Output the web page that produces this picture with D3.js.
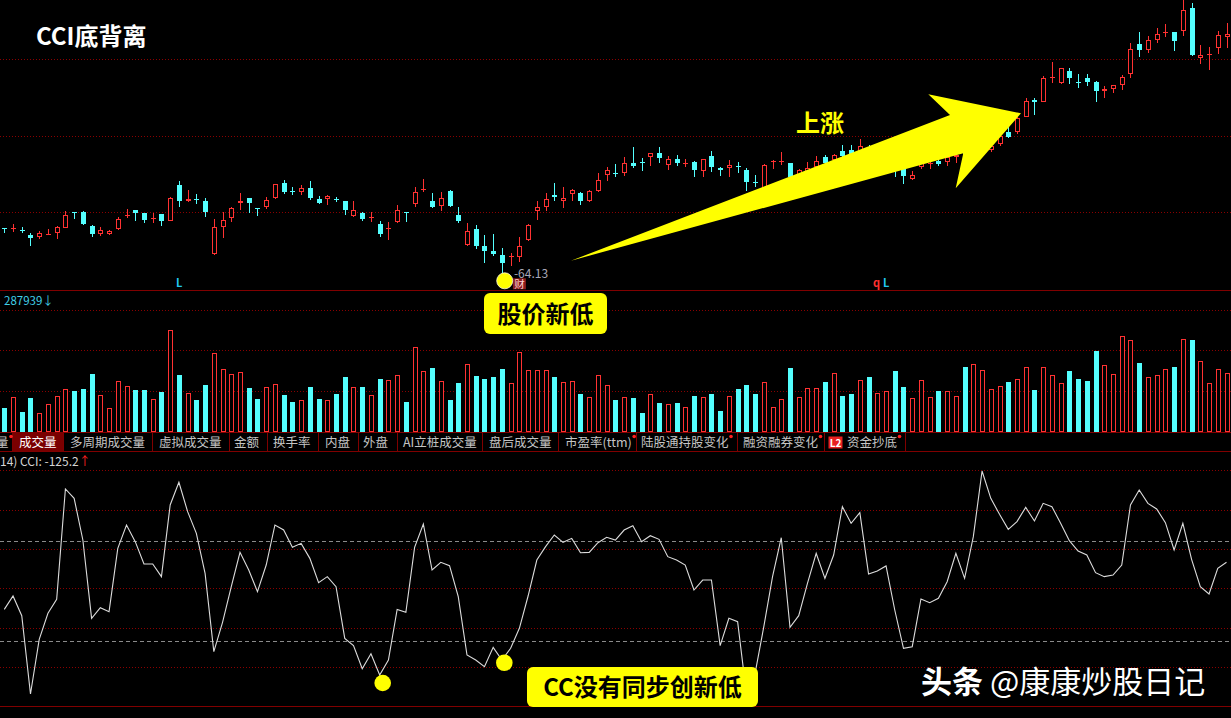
<!DOCTYPE html>
<html><head><meta charset="utf-8">
<script src="https://cdn.jsdelivr.net/npm/d3@7"></script>
<style>
html,body{margin:0;padding:0;background:#000;overflow:hidden}
svg{display:block}
text{font-family:"Noto Sans CJK SC","Noto Sans",sans-serif}
</style></head><body>
<svg id="c" width="1231" height="718"></svg>
<script>
// ---------------- data ----------------
const opens = [68.63,68.53,68.49,67.99,67.73,67.99,68.13,68.69,70.26,70.26,68.83,68.03,68.03,68.56,69.89,70.43,70.13,69.53,70.03,69.39,
72.96,71.36,71.53,71.39,66.06,68.76,69.69,71.13,71.63,70.66,70.79,71.66,73.16,72.33,72.23,72.66,71.56,71.53,71.56,71.33,
69.89,70.16,69.69,69.09,68.59,69.26,70.26,71.09,72.49,71.33,70.89,72.39,69.93,66.96,68.56,66.86,66.39,65.93,65.79,65.73,
67.46,70.39,70.73,71.93,71.39,72.09,72.13,71.39,72.36,73.96,74.13,74.13,75.19,75.29,75.76,76.13,74.93,75.56,75.06,75.29,
74.39,75.86,74.69,74.69,74.89,74.46,73.23,72.46,75.26,75.29,75.13,73.76,74.26,74.79,75.79,75.46,76.39,76.46,76.29,76.66,
75.46,75.16,75.46,74.63,73.59,74.73,75.13,75.36,75.29,75.73,76.13,75.26,76.06,76.46,77.06,78.26,78.29,79.79,81.46,81.29,
83.63,83.19,84.39,83.29,83.63,83.26,82.39,82.53,82.96,84.06,87.06,86.46,87.49,88.16,88.29,88.39,90.63,85.69,85.99,86.63,87.76];
const closes = [68.53,68.63,68.33,67.66,68.16,68.09,68.79,69.93,70.13,69.06,68.03,68.46,68.36,69.56,69.99,70.19,69.43,69.63,69.33,71.69,
71.39,71.53,71.46,70.23,68.73,69.46,70.69,71.36,71.19,70.56,71.46,73.03,72.23,72.23,72.66,71.69,71.19,71.86,71.46,70.46,
70.43,69.53,69.79,68.03,68.69,70.43,70.16,72.29,72.59,70.73,71.63,70.83,69.36,68.36,66.86,66.33,66.06,65.13,65.89,66.89,
68.93,70.73,71.53,71.79,71.69,72.46,71.39,72.39,73.43,74.46,74.03,75.19,74.89,75.19,76.13,75.63,75.53,75.19,75.16,74.43,
75.53,74.76,74.43,74.93,74.79,73.29,73.13,74.99,75.36,75.39,73.73,74.46,74.66,75.39,75.13,75.96,75.83,75.66,76.86,75.86,
76.16,76.06,74.66,73.89,73.96,75.13,75.19,75.03,75.73,75.96,75.13,76.26,76.86,76.86,77.86,77.79,79.63,81.39,81.29,83.63,
83.79,84.63,83.63,83.19,83.26,82.36,82.53,82.93,83.79,86.56,86.46,87.43,88.03,88.29,87.39,90.46,85.96,85.96,86.09,87.93,88.06];
const highs = [68.63,69.03,68.73,68.13,68.36,68.56,68.86,70.36,70.26,70.36,68.93,68.73,68.46,69.79,70.53,70.49,70.19,70.16,70.09,71.79,
73.36,72.46,72.03,71.63,69.56,70.23,70.79,72.13,71.63,70.66,71.79,73.09,73.46,72.76,72.96,73.36,71.86,71.93,71.79,71.36,
71.36,70.26,70.26,69.39,69.29,70.93,70.26,72.76,73.53,72.13,72.26,72.43,70.79,69.13,68.93,67.93,68.09,66.63,66.19,67.73,
69.09,71.36,72.19,73.19,72.76,72.56,72.26,72.49,74.16,74.73,75.03,75.76,76.79,75.63,76.19,76.73,75.86,75.99,75.56,75.39,
75.59,76.33,74.76,75.43,75.29,74.69,73.96,75.03,75.46,76.29,75.19,74.53,75.29,75.86,75.93,76.06,76.96,76.96,77.53,76.96,
76.46,76.36,75.76,74.76,74.39,75.46,75.53,75.53,75.96,76.19,76.46,76.46,77.06,77.16,78.06,78.79,79.73,81.63,81.63,83.86,
85.29,84.63,84.63,84.03,84.06,83.36,82.89,82.96,83.96,87.13,88.29,87.89,88.63,89.03,88.29,91.46,91.19,86.96,86.79,88.36,89.19];
const lows = [68.13,68.23,68.19,66.86,67.59,67.99,67.53,68.63,69.59,68.93,67.73,67.83,67.99,68.46,69.66,69.39,69.13,69.13,68.86,69.39,
70.79,71.29,71.06,69.76,65.96,67.63,69.23,70.46,70.13,69.89,70.59,71.59,72.06,71.93,71.99,71.49,71.03,70.93,71.26,69.96,
69.79,69.39,69.29,67.79,67.46,69.19,69.29,70.79,72.26,70.69,70.36,70.73,69.13,66.89,66.59,65.19,65.86,64.13,64.89,65.29,
67.39,69.46,70.39,71.39,70.63,71.39,70.93,71.23,72.23,73.36,73.73,73.89,74.63,74.39,74.86,75.19,74.49,74.89,74.76,73.73,
73.73,74.26,73.89,73.79,74.19,72.36,72.73,72.26,74.56,74.99,73.46,73.46,73.86,74.46,74.66,75.16,75.46,75.26,75.96,75.46,
75.16,74.86,73.76,73.06,73.46,74.59,74.53,74.86,74.86,75.13,74.86,75.06,75.86,76.26,76.86,77.66,78.03,79.73,79.96,81.23,
83.19,83.03,83.06,82.63,82.89,81.23,81.69,82.13,82.46,83.69,85.79,86.13,87.13,87.79,86.39,87.86,85.89,85.03,84.46,86.06,86.69];
// volume, thousand shares
const volumes = [116,170,97,165,92,137,175,211,201,211,284,183,119,249,224,206,206,160,198,500,
280,191,157,229,389,308,283,293,216,162,219,237,180,147,155,221,162,155,188,268,
219,219,183,258,255,278,147,415,299,312,252,157,239,335,275,261,271,308,239,394,
304,304,304,270,247,252,188,173,278,229,157,170,165,92,186,141,136,141,123,178,
170,188,104,178,211,229,188,247,123,160,312,173,214,214,244,288,178,188,257,270,
191,201,298,219,165,254,170,201,201,178,317,335,303,211,224,244,260,317,206,317,
280,242,298,261,249,399,330,283,472,450,340,270,278,308,317,455,450,348,242,308,288];
const cci = [-36.9,-10.3,-49.5,-205.7,-96.7,-44.8,-16.9,203.1,184.5,101.4,-54.8,-33.5,-41.5,84.8,131.3,98.1,53.5,53.5,28.3,171.2,
216.4,157.9,114.7,34.9,-121.3,-62.8,8.3,76.8,41.6,-1.6,51.5,131.3,121.3,86.8,94.7,64.8,16.3,28.3,8.3,-94.7,
-109.3,-155.2,-125.3,-167.8,-137.9,-36.9,-42.8,86.8,133.3,41.6,56.9,50.2,-11.6,-127.9,-137.9,-151.2,-112.6,-137.9,-114.6,-74.7,
-10.3,61.5,88.1,111.4,96.7,104.7,76.1,76.8,96.1,106.7,101.4,121.3,130.0,98.1,110.0,102.7,68.2,61.5,51.5,1.7,
21.6,21.6,-109.3,-54.8,-61.4,-204.4,-164.5,-71.4,28.3,106.0,-72.7,-49.5,15.0,74.8,25.0,71.5,167.9,134.6,155.9,33.6,
39.6,49.6,-38.2,-114.6,-111.3,-16.3,-23.6,-14.9,18.3,74.8,25.0,108.0,239.0,184.5,152.6,122.7,138.0,166.5,139.3,174.5,
167.9,134.6,100.1,79.5,71.5,36.3,28.3,31.6,51.5,171.2,201.1,174.5,163.2,136.0,81.5,134.6,62.8,8.3,-6.3,44.9,56.9];

const priceGrid = [70.23, 77.86, 85.53];
const volGrid = [200, 400, 600];
const cciGrid = [-152, -73.6, 4.8, 83.2, 161.6, 240];
const cciRef = [-100, 100];

const tabLabels = ["量","成交量","多周期成交量","虚拟成交量","金额","换手率","内盘","外盘","AI立桩成交量","盘后成交量","市盈率(ttm)","陆股通持股变化","融资融券变化","资金抄底"];
const tabX = [-4,19,70,159,234,273,325,363,403,489,565,641,743,847];
const tabDot = [true,false,false,false,false,false,false,false,false,false,true,true,true,true];
const tabSep = [12,63,152,229,267,318,358,397,482,558,636,737,824,905];

// annotation arrow in (index, price)
const arrowIdx = [64.91,108.33,105.84,116.46,108.98,109.85];
const arrowPrice = [65.39,79.96,82.03,80.13,72.63,76.13];

// ---------------- drawing ----------------
const W = 1231, H = 718;
const RED = "#ff3232", CYAN = "#54ffff", GRID = "#8a0000", LINE = "#800000";
const svg = d3.select("#c");
svg.append("rect").attr("width", W).attr("height", H).attr("fill", "#000");
const n = opens.length;
const x = d3.scaleLinear().domain([0, n - 1]).range([4.3, 1226.5]);
const yP = d3.scaleLinear().domain([62.46, 91.46]).range([290, 0]);
const yV = d3.scaleLinear().domain([0, 691.6]).range([432, 291]);
const yC = d3.scaleLinear().domain([-100, 100]).range([641, 540.7]);

const defs = svg.append("defs");
defs.append("clipPath").attr("id", "cp").append("rect").attr("x", 0).attr("y", 0).attr("width", W).attr("height", 290);
defs.append("clipPath").attr("id", "cc").append("rect").attr("x", 0).attr("y", 452).attr("width", W).attr("height", 254);

function hline(y, color, dash) {
  const l = svg.append("line").attr("x1", 0).attr("x2", W)
    .attr("y1", Math.round(y) + 0.5).attr("y2", Math.round(y) + 0.5)
    .attr("stroke", color).attr("stroke-width", 1);
  if (dash) l.attr("stroke-dasharray", dash);
  return l;
}
// grids
priceGrid.forEach(p => hline(yP(p), GRID, "1,2"));
volGrid.forEach(v => hline(yV(v), GRID, "1,2"));
cciGrid.forEach(v => hline(yC(v), GRID, "1,2"));
cciRef.forEach(v => hline(yC(v), "#8a8a8a", "4,3"));
// pane separators
hline(290, LINE);
hline(432, LINE);
hline(451, LINE);
hline(706, LINE);

// candles
const gc = svg.append("g").attr("clip-path", "url(#cp)");
d3.range(n).forEach(i => {
  const c0 = Math.round(x(i));
  const up = closes[i] >= opens[i];
  const col = up ? RED : CYAN;
  const yh = Math.round(yP(highs[i])), yl = Math.round(yP(lows[i]));
  gc.append("line").attr("x1", c0 + 0.5).attr("x2", c0 + 0.5).attr("y1", yh).attr("y2", yl)
    .attr("stroke", col).attr("stroke-width", 1);
  const yo = Math.round(yP(opens[i])), yc = Math.round(yP(closes[i]));
  if (up) {
    const h = Math.max(1, yo - yc);
    gc.append("rect").attr("x", c0 - 1.5).attr("y", yc + 0.5).attr("width", 4).attr("height", h - 1 > 0 ? h - 1 : 0.01)
      .attr("fill", "#000").attr("stroke", col).attr("stroke-width", 1);
  } else {
    const h = Math.max(1, yc - yo);
    gc.append("rect").attr("x", c0 - 2).attr("y", yo).attr("width", 5).attr("height", h).attr("fill", col);
  }
});

// volume bars
const gv = svg.append("g");
d3.range(n).forEach(i => {
  const c0 = Math.round(x(i));
  const up = closes[i] >= opens[i];
  const yt = Math.round(yV(volumes[i]));
  const yb = Math.round(yV(0));
  if (up) {
    gv.append("rect").attr("x", c0 - 1.5).attr("y", yt + 0.5).attr("width", 4).attr("height", yb - yt - 1)
      .attr("fill", "#000").attr("stroke", RED).attr("stroke-width", 1);
  } else {
    gv.append("rect").attr("x", c0 - 2).attr("y", yt).attr("width", 5).attr("height", yb - yt).attr("fill", CYAN);
  }
});

// CCI line
const line = d3.line().x((d, i) => x(i)).y(d => yC(d));
svg.append("path").datum(cci).attr("clip-path", "url(#cc)").attr("d", line)
  .attr("fill", "none").attr("stroke", "#dcdcdc").attr("stroke-width", 1.1);

// volume label
const vl = svg.append("text").attr("x", 4).attr("y", 305).attr("font-size", 11.5).attr("fill", "#40d0e8");
vl.text("287939↓");

// tab bar
svg.append("rect").attr("x", 12).attr("y", 433).attr("width", 51).attr("height", 18).attr("fill", "#7a0000");
tabSep.forEach(sx => svg.append("line").attr("x1", sx + 0.5).attr("x2", sx + 0.5).attr("y1", 433).attr("y2", 451)
  .attr("stroke", LINE).attr("stroke-width", 1));
tabLabels.forEach((t, i) => {
  const tx = svg.append("text").attr("x", tabX[i]).attr("y", 447).attr("font-size", 12.5)
    .attr("fill", i === 1 ? "#ffffff" : "#c4c4c4").text(t);
  if (tabDot[i]) {
    const w = tx.node().getComputedTextLength();
    svg.append("circle").attr("cx", tabX[i] + w + 2.5).attr("cy", 436.5).attr("r", 1.8).attr("fill", "#ff2020");
  }
});
// L2 badge
svg.append("rect").attr("x", 828.5).attr("y", 436.5).attr("width", 14).attr("height", 12).attr("fill", "#e82020");
svg.append("text").attr("x", 835.5).attr("y", 446.5).attr("text-anchor", "middle").attr("font-size", 10)
  .attr("font-weight", "bold").attr("fill", "#fff").text("L2");

// CCI label
const cl = svg.append("text").attr("x", 0).attr("y", 466).attr("font-size", 12).attr("fill", "#d4d4d4");
cl.append("tspan").text("14) CCI: -125.2");
cl.append("tspan").attr("fill", "#ff2020").text("↑");

// markers in price pane
svg.append("text").attr("x", 176).attr("y", 287).attr("font-size", 11).attr("font-weight", "bold").attr("fill", "#20c8f0").text("L");
svg.append("text").attr("x", 873).attr("y", 287).attr("font-size", 11).attr("font-weight", "bold").attr("fill", "#ff3030").text("q");
svg.append("text").attr("x", 883).attr("y", 287).attr("font-size", 11).attr("font-weight", "bold").attr("fill", "#20c8f0").text("L");

// low annotation
const lowX = x(57), lowY = yP(lows[57]);
svg.append("text").attr("x", lowX + 12).attr("y", lowY + 4.5).attr("font-size", 12).attr("fill", "#a8a8b8").text("-64.13");
svg.append("rect").attr("x", lowX + 11).attr("y", lowY + 5).attr("width", 13).attr("height", 11).attr("fill", "#8a1c1c");
svg.append("text").attr("x", lowX + 17.5).attr("y", lowY + 14.5).attr("text-anchor", "middle").attr("font-size", 10.5).attr("fill", "#ffd6d6").text("财");

// arrow
const arrowPts = arrowIdx.map((d, i) => [x(d), yP(arrowPrice[i])]);
svg.append("polygon").attr("points", arrowPts.map(p => p.join(",")).join(" ")).attr("fill", "#ffff00");

// title
svg.append("text").attr("x", 36).attr("y", 44.5).attr("font-size", 24).attr("font-weight", "bold").attr("fill", "#fff").text("CCI底背离");
svg.append("text").attr("x", 796).attr("y", 132).attr("font-size", 24).attr("font-weight", "bold").attr("fill", "#ffff00").text("上涨");

// dots
svg.append("circle").attr("cx", lowX + 2.8).attr("cy", lowY + 7.5).attr("r", 8).attr("fill", "#ffff00").attr("stroke", "#fffde0").attr("stroke-width", 0.8);
svg.append("circle").attr("cx", x(43) + 3).attr("cy", yC(cci[43]) + 8).attr("r", 8.3).attr("fill", "#ffff00");
svg.append("circle").attr("cx", x(57) + 2.4).attr("cy", yC(cci[57]) + 2.8).attr("r", 8.3).attr("fill", "#ffff00");

// callout boxes
svg.append("rect").attr("x", 484).attr("y", 293).attr("width", 123).attr("height", 41).attr("rx", 6).attr("fill", "#ffff00");
svg.append("text").attr("x", 545.5).attr("y", 322.5).attr("text-anchor", "middle").attr("font-size", 24).attr("font-weight", "bold").attr("fill", "#000").text("股价新低");
svg.append("rect").attr("x", 527).attr("y", 667).attr("width", 231).attr("height", 40).attr("rx", 6).attr("fill", "#ffff00");
svg.append("text").attr("x", 642.5).attr("y", 695.5).attr("text-anchor", "middle").attr("font-size", 24).attr("font-weight", "bold").attr("fill", "#000").text("CC没有同步创新低");

// watermark
const wm = svg.append("text").attr("x", 921).attr("y", 693).attr("font-size", 31).attr("fill", "#fff");
wm.append("tspan").attr("font-weight", "bold").text("头条 ");
wm.append("tspan").text("@康康炒股日记");
</script>
</body></html>
